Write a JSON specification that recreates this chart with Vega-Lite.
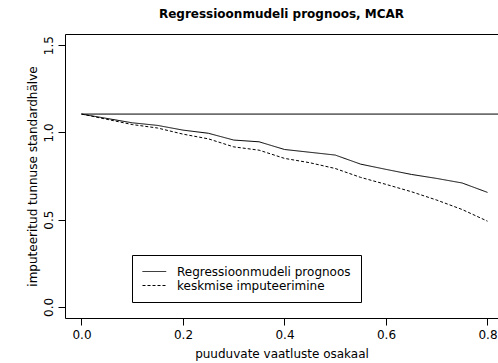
{
  "$schema": "https://vega.github.io/schema/vega-lite/v6.json",
  "width": 433,
  "height": 284,
  "autosize": "none",
  "padding": {"left": 65, "top": 34, "right": 0, "bottom": 45},
  "config": {
    "view": {"stroke": null},
    "font": "DejaVu Sans",
    "axis": {
      "domainColor": "black", "domainWidth": 1, "tickColor": "black", "tickWidth": 1, "tickSize": 7,
      "labelColor": "black", "labelFontSize": 12, "labelFont": "DejaVu Sans", "titleColor": "black",
      "titleFontSize": 12, "titleFontWeight": "normal", "titleFont": "DejaVu Sans", "grid": false
    },
    "legend": {
      "orient": "none", "legendX": 67, "legendY": 221, "strokeColor": "black", "fillColor": "white",
      "padding": 10, "cornerRadius": 0, "labelFontSize": 12, "labelFont": "DejaVu Sans", "labelColor": "black",
      "labelLimit": 400,
      "symbolType": "M-1,0H2.95", "symbolSize": 144, "symbolStrokeColor": "black", "symbolStrokeWidth": 1,
      "labelOffset": 22, "rowPadding": 1, "title": null
    }
  },
  "title": {
    "text": "Regressioonmudeli prognoos, MCAR", "fontSize": 12, "fontWeight": "bold", "font": "DejaVu Sans",
    "color": "black", "anchor": "middle", "offset": 13
  },
  "resolve": {"axis": {"x": "independent"}},
  "layer": [
    {
      "data": {"values": [
        {"x": 0.00, "v": 1.105, "s": "Regressioonmudeli prognoos"},
        {"x": 0.05, "v": 1.080, "s": "Regressioonmudeli prognoos"},
        {"x": 0.10, "v": 1.055, "s": "Regressioonmudeli prognoos"},
        {"x": 0.15, "v": 1.040, "s": "Regressioonmudeli prognoos"},
        {"x": 0.20, "v": 1.013, "s": "Regressioonmudeli prognoos"},
        {"x": 0.25, "v": 0.995, "s": "Regressioonmudeli prognoos"},
        {"x": 0.30, "v": 0.956, "s": "Regressioonmudeli prognoos"},
        {"x": 0.35, "v": 0.946, "s": "Regressioonmudeli prognoos"},
        {"x": 0.40, "v": 0.902, "s": "Regressioonmudeli prognoos"},
        {"x": 0.45, "v": 0.886, "s": "Regressioonmudeli prognoos"},
        {"x": 0.50, "v": 0.870, "s": "Regressioonmudeli prognoos"},
        {"x": 0.55, "v": 0.818, "s": "Regressioonmudeli prognoos"},
        {"x": 0.60, "v": 0.788, "s": "Regressioonmudeli prognoos"},
        {"x": 0.65, "v": 0.759, "s": "Regressioonmudeli prognoos"},
        {"x": 0.70, "v": 0.736, "s": "Regressioonmudeli prognoos"},
        {"x": 0.75, "v": 0.710, "s": "Regressioonmudeli prognoos"},
        {"x": 0.80, "v": 0.656, "s": "Regressioonmudeli prognoos"},
        {"x": 0.00, "v": 1.105, "s": "keskmise imputeerimine"},
        {"x": 0.05, "v": 1.075, "s": "keskmise imputeerimine"},
        {"x": 0.10, "v": 1.045, "s": "keskmise imputeerimine"},
        {"x": 0.15, "v": 1.025, "s": "keskmise imputeerimine"},
        {"x": 0.20, "v": 0.990, "s": "keskmise imputeerimine"},
        {"x": 0.25, "v": 0.963, "s": "keskmise imputeerimine"},
        {"x": 0.30, "v": 0.917, "s": "keskmise imputeerimine"},
        {"x": 0.35, "v": 0.898, "s": "keskmise imputeerimine"},
        {"x": 0.40, "v": 0.851, "s": "keskmise imputeerimine"},
        {"x": 0.45, "v": 0.826, "s": "keskmise imputeerimine"},
        {"x": 0.50, "v": 0.793, "s": "keskmise imputeerimine"},
        {"x": 0.55, "v": 0.742, "s": "keskmise imputeerimine"},
        {"x": 0.60, "v": 0.702, "s": "keskmise imputeerimine"},
        {"x": 0.65, "v": 0.660, "s": "keskmise imputeerimine"},
        {"x": 0.70, "v": 0.612, "s": "keskmise imputeerimine"},
        {"x": 0.75, "v": 0.558, "s": "keskmise imputeerimine"},
        {"x": 0.80, "v": 0.491, "s": "keskmise imputeerimine"}
      ]},
      "mark": {"type": "line", "color": "black", "strokeWidth": 1, "clip": true},
      "encoding": {
        "x": {
          "field": "x", "type": "quantitative",
          "scale": {"domain": [-0.0325, 0.8207], "nice": false, "zero": false},
          "axis": {"orient": "bottom", "values": [0, 0.2, 0.4, 0.6, 0.8], "format": ".1f", "labelPadding": 4,
                   "title": "puuduvate vaatluste osakaal", "titlePadding": 8, "labelFlush": false}
        },
        "y": {
          "field": "v", "type": "quantitative",
          "scale": {"domain": [-0.064, 1.564], "nice": false, "zero": false},
          "axis": {"values": [0, 0.5, 1, 1.5], "format": ".1f", "labelAngle": -90, "labelAlign": "center",
                   "labelBaseline": "bottom", "labelPadding": 3, "title": "imputeeritud tunnuse standardhälve",
                   "titlePadding": 3, "labelFlush": false}
        },
        "strokeDash": {
          "field": "s", "type": "nominal",
          "scale": {"domain": ["Regressioonmudeli prognoos", "keskmise imputeerimine"], "range": [[1, 0], [3, 2]]},
          "legend": {"title": null}
        }
      }
    },
    {
      "data": {"values": [{"x": 0, "x2": 0.9, "y": 1.105}]},
      "mark": {"type": "rule", "color": "black", "strokeWidth": 1, "clip": true},
      "encoding": {
        "x": {"field": "x", "type": "quantitative",
              "axis": {"orient": "top", "labels": false, "ticks": false, "title": null, "domain": true}},
        "x2": {"field": "x2"},
        "y": {"field": "y", "type": "quantitative"}
      }
    }
  ]
}
